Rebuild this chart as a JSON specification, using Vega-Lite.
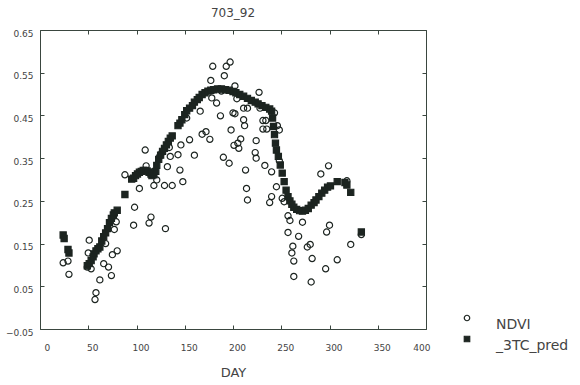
{
  "$schema": "https://vega.github.io/schema/vega-lite/v6.json",
  "autosize": {"type": "none"},
  "padding": {"left": 40, "top": 30, "right": 154, "bottom": 56},
  "width": 386,
  "height": 299,
  "background": "white",
  "title": {"text": "703_92", "fontSize": 12, "fontWeight": "normal", "color": "#444", "font": "DejaVu Sans", "offset": 9},
  "config": {
    "view": {"stroke": "#3a463f", "strokeWidth": 1},
    "axis": {"grid": false, "domain": false, "tickColor": "#3a463f", "tickSize": -4, "labelColor": "#444", "labelFont": "DejaVu Sans", "labelFontSize": 9, "titleFont": "DejaVu Sans", "titleColor": "#444", "titleFontWeight": "normal"}
  },
  "datasets": {
    "pts": [
      {"day": 24, "value": 0.105, "series": "NDVI"},
      {"day": 29, "value": 0.109, "series": "NDVI"},
      {"day": 30, "value": 0.078, "series": "NDVI"},
      {"day": 49, "value": 0.095, "series": "NDVI"},
      {"day": 50, "value": 0.128, "series": "NDVI"},
      {"day": 51, "value": 0.158, "series": "NDVI"},
      {"day": 53, "value": 0.091, "series": "NDVI"},
      {"day": 57, "value": 0.019, "series": "NDVI"},
      {"day": 58, "value": 0.035, "series": "NDVI"},
      {"day": 62, "value": 0.065, "series": "NDVI"},
      {"day": 66, "value": 0.103, "series": "NDVI"},
      {"day": 68, "value": 0.15, "series": "NDVI"},
      {"day": 71, "value": 0.095, "series": "NDVI"},
      {"day": 74, "value": 0.075, "series": "NDVI"},
      {"day": 75, "value": 0.124, "series": "NDVI"},
      {"day": 77, "value": 0.183, "series": "NDVI"},
      {"day": 79, "value": 0.201, "series": "NDVI"},
      {"day": 80, "value": 0.133, "series": "NDVI"},
      {"day": 88, "value": 0.311, "series": "NDVI"},
      {"day": 97, "value": 0.193, "series": "NDVI"},
      {"day": 98, "value": 0.235, "series": "NDVI"},
      {"day": 103, "value": 0.279, "series": "NDVI"},
      {"day": 109, "value": 0.369, "series": "NDVI"},
      {"day": 110, "value": 0.332, "series": "NDVI"},
      {"day": 113, "value": 0.198, "series": "NDVI"},
      {"day": 115, "value": 0.212, "series": "NDVI"},
      {"day": 117, "value": 0.318, "series": "NDVI"},
      {"day": 118, "value": 0.286, "series": "NDVI"},
      {"day": 121, "value": 0.299, "series": "NDVI"},
      {"day": 124, "value": 0.354, "series": "NDVI"},
      {"day": 126, "value": 0.362, "series": "NDVI"},
      {"day": 129, "value": 0.286, "series": "NDVI"},
      {"day": 130, "value": 0.185, "series": "NDVI"},
      {"day": 132, "value": 0.33, "series": "NDVI"},
      {"day": 134, "value": 0.375, "series": "NDVI"},
      {"day": 135, "value": 0.354, "series": "NDVI"},
      {"day": 137, "value": 0.286, "series": "NDVI"},
      {"day": 143, "value": 0.358, "series": "NDVI"},
      {"day": 145, "value": 0.322, "series": "NDVI"},
      {"day": 146, "value": 0.381, "series": "NDVI"},
      {"day": 148, "value": 0.295, "series": "NDVI"},
      {"day": 152, "value": 0.444, "series": "NDVI"},
      {"day": 155, "value": 0.393, "series": "NDVI"},
      {"day": 160, "value": 0.357, "series": "NDVI"},
      {"day": 166, "value": 0.46, "series": "NDVI"},
      {"day": 168, "value": 0.406, "series": "NDVI"},
      {"day": 172, "value": 0.412, "series": "NDVI"},
      {"day": 176, "value": 0.394, "series": "NDVI"},
      {"day": 177, "value": 0.532, "series": "NDVI"},
      {"day": 178, "value": 0.491, "series": "NDVI"},
      {"day": 179, "value": 0.565, "series": "NDVI"},
      {"day": 183, "value": 0.479, "series": "NDVI"},
      {"day": 187, "value": 0.449, "series": "NDVI"},
      {"day": 188, "value": 0.507, "series": "NDVI"},
      {"day": 190, "value": 0.352, "series": "NDVI"},
      {"day": 191, "value": 0.543, "series": "NDVI"},
      {"day": 193, "value": 0.565, "series": "NDVI"},
      {"day": 196, "value": 0.338, "series": "NDVI"},
      {"day": 197, "value": 0.575, "series": "NDVI"},
      {"day": 198, "value": 0.416, "series": "NDVI"},
      {"day": 200, "value": 0.456, "series": "NDVI"},
      {"day": 201, "value": 0.38, "series": "NDVI"},
      {"day": 202, "value": 0.454, "series": "NDVI"},
      {"day": 202, "value": 0.519, "series": "NDVI"},
      {"day": 204, "value": 0.489, "series": "NDVI"},
      {"day": 205, "value": 0.385, "series": "NDVI"},
      {"day": 206, "value": 0.373, "series": "NDVI"},
      {"day": 208, "value": 0.395, "series": "NDVI"},
      {"day": 211, "value": 0.467, "series": "NDVI"},
      {"day": 211, "value": 0.44, "series": "NDVI"},
      {"day": 212, "value": 0.426, "series": "NDVI"},
      {"day": 213, "value": 0.322, "series": "NDVI"},
      {"day": 214, "value": 0.279, "series": "NDVI"},
      {"day": 215, "value": 0.252, "series": "NDVI"},
      {"day": 215, "value": 0.467, "series": "NDVI"},
      {"day": 223, "value": 0.363, "series": "NDVI"},
      {"day": 224, "value": 0.391, "series": "NDVI"},
      {"day": 224, "value": 0.35, "series": "NDVI"},
      {"day": 227, "value": 0.504, "series": "NDVI"},
      {"day": 228, "value": 0.467, "series": "NDVI"},
      {"day": 231, "value": 0.438, "series": "NDVI"},
      {"day": 231, "value": 0.418, "series": "NDVI"},
      {"day": 233, "value": 0.333, "series": "NDVI"},
      {"day": 234, "value": 0.438, "series": "NDVI"},
      {"day": 235, "value": 0.418, "series": "NDVI"},
      {"day": 238, "value": 0.246, "series": "NDVI"},
      {"day": 240, "value": 0.26, "series": "NDVI"},
      {"day": 240, "value": 0.318, "series": "NDVI"},
      {"day": 243, "value": 0.456, "series": "NDVI"},
      {"day": 245, "value": 0.283, "series": "NDVI"},
      {"day": 246, "value": 0.426, "series": "NDVI"},
      {"day": 248, "value": 0.416, "series": "NDVI"},
      {"day": 248, "value": 0.344, "series": "NDVI"},
      {"day": 251, "value": 0.256, "series": "NDVI"},
      {"day": 253, "value": 0.248, "series": "NDVI"},
      {"day": 257, "value": 0.215, "series": "NDVI"},
      {"day": 257, "value": 0.176, "series": "NDVI"},
      {"day": 259, "value": 0.204, "series": "NDVI"},
      {"day": 261, "value": 0.128, "series": "NDVI"},
      {"day": 262, "value": 0.144, "series": "NDVI"},
      {"day": 263, "value": 0.109, "series": "NDVI"},
      {"day": 263, "value": 0.073, "series": "NDVI"},
      {"day": 268, "value": 0.167, "series": "NDVI"},
      {"day": 272, "value": 0.2, "series": "NDVI"},
      {"day": 277, "value": 0.142, "series": "NDVI"},
      {"day": 280, "value": 0.148, "series": "NDVI"},
      {"day": 281, "value": 0.06, "series": "NDVI"},
      {"day": 282, "value": 0.115, "series": "NDVI"},
      {"day": 291, "value": 0.313, "series": "NDVI"},
      {"day": 296, "value": 0.091, "series": "NDVI"},
      {"day": 297, "value": 0.177, "series": "NDVI"},
      {"day": 299, "value": 0.332, "series": "NDVI"},
      {"day": 300, "value": 0.193, "series": "NDVI"},
      {"day": 308, "value": 0.112, "series": "NDVI"},
      {"day": 318, "value": 0.297, "series": "NDVI"},
      {"day": 322, "value": 0.148, "series": "NDVI"},
      {"day": 333, "value": 0.171, "series": "NDVI"},
      {"day": 24, "value": 0.17, "series": "_3TC_pred"},
      {"day": 25, "value": 0.162, "series": "_3TC_pred"},
      {"day": 29, "value": 0.136, "series": "_3TC_pred"},
      {"day": 30, "value": 0.128, "series": "_3TC_pred"},
      {"day": 49, "value": 0.098, "series": "_3TC_pred"},
      {"day": 51, "value": 0.103, "series": "_3TC_pred"},
      {"day": 53, "value": 0.11, "series": "_3TC_pred"},
      {"day": 55, "value": 0.119, "series": "_3TC_pred"},
      {"day": 56, "value": 0.126, "series": "_3TC_pred"},
      {"day": 58, "value": 0.133, "series": "_3TC_pred"},
      {"day": 60, "value": 0.138, "series": "_3TC_pred"},
      {"day": 62, "value": 0.142, "series": "_3TC_pred"},
      {"day": 64, "value": 0.156, "series": "_3TC_pred"},
      {"day": 66, "value": 0.166, "series": "_3TC_pred"},
      {"day": 68, "value": 0.175, "series": "_3TC_pred"},
      {"day": 70, "value": 0.185, "series": "_3TC_pred"},
      {"day": 72, "value": 0.199, "series": "_3TC_pred"},
      {"day": 74, "value": 0.209, "series": "_3TC_pred"},
      {"day": 76, "value": 0.217, "series": "_3TC_pred"},
      {"day": 77, "value": 0.222, "series": "_3TC_pred"},
      {"day": 80, "value": 0.228, "series": "_3TC_pred"},
      {"day": 88, "value": 0.265, "series": "_3TC_pred"},
      {"day": 95, "value": 0.301, "series": "_3TC_pred"},
      {"day": 97, "value": 0.303, "series": "_3TC_pred"},
      {"day": 99, "value": 0.309, "series": "_3TC_pred"},
      {"day": 101, "value": 0.313, "series": "_3TC_pred"},
      {"day": 103, "value": 0.317, "series": "_3TC_pred"},
      {"day": 105, "value": 0.319, "series": "_3TC_pred"},
      {"day": 107, "value": 0.321, "series": "_3TC_pred"},
      {"day": 109, "value": 0.321, "series": "_3TC_pred"},
      {"day": 111, "value": 0.32, "series": "_3TC_pred"},
      {"day": 113, "value": 0.317, "series": "_3TC_pred"},
      {"day": 115, "value": 0.313, "series": "_3TC_pred"},
      {"day": 116, "value": 0.309, "series": "_3TC_pred"},
      {"day": 118, "value": 0.311, "series": "_3TC_pred"},
      {"day": 120, "value": 0.319, "series": "_3TC_pred"},
      {"day": 121, "value": 0.333, "series": "_3TC_pred"},
      {"day": 123, "value": 0.347, "series": "_3TC_pred"},
      {"day": 125, "value": 0.357, "series": "_3TC_pred"},
      {"day": 127, "value": 0.366, "series": "_3TC_pred"},
      {"day": 129, "value": 0.373, "series": "_3TC_pred"},
      {"day": 131, "value": 0.381, "series": "_3TC_pred"},
      {"day": 133, "value": 0.389, "series": "_3TC_pred"},
      {"day": 135, "value": 0.397, "series": "_3TC_pred"},
      {"day": 137, "value": 0.402, "series": "_3TC_pred"},
      {"day": 143, "value": 0.426, "series": "_3TC_pred"},
      {"day": 145, "value": 0.432, "series": "_3TC_pred"},
      {"day": 147, "value": 0.44, "series": "_3TC_pred"},
      {"day": 150, "value": 0.452, "series": "_3TC_pred"},
      {"day": 152, "value": 0.461, "series": "_3TC_pred"},
      {"day": 155, "value": 0.467, "series": "_3TC_pred"},
      {"day": 158, "value": 0.473, "series": "_3TC_pred"},
      {"day": 160, "value": 0.481, "series": "_3TC_pred"},
      {"day": 163, "value": 0.487, "series": "_3TC_pred"},
      {"day": 165, "value": 0.492, "series": "_3TC_pred"},
      {"day": 168, "value": 0.499, "series": "_3TC_pred"},
      {"day": 171, "value": 0.503, "series": "_3TC_pred"},
      {"day": 174, "value": 0.507, "series": "_3TC_pred"},
      {"day": 177, "value": 0.509, "series": "_3TC_pred"},
      {"day": 180, "value": 0.51, "series": "_3TC_pred"},
      {"day": 184, "value": 0.512, "series": "_3TC_pred"},
      {"day": 188, "value": 0.512, "series": "_3TC_pred"},
      {"day": 192, "value": 0.51, "series": "_3TC_pred"},
      {"day": 196, "value": 0.509, "series": "_3TC_pred"},
      {"day": 200, "value": 0.506, "series": "_3TC_pred"},
      {"day": 203, "value": 0.503, "series": "_3TC_pred"},
      {"day": 207, "value": 0.499, "series": "_3TC_pred"},
      {"day": 211, "value": 0.495, "series": "_3TC_pred"},
      {"day": 215, "value": 0.49, "series": "_3TC_pred"},
      {"day": 219, "value": 0.485, "series": "_3TC_pred"},
      {"day": 223, "value": 0.481, "series": "_3TC_pred"},
      {"day": 226, "value": 0.477, "series": "_3TC_pred"},
      {"day": 230, "value": 0.473, "series": "_3TC_pred"},
      {"day": 234, "value": 0.469, "series": "_3TC_pred"},
      {"day": 238, "value": 0.465, "series": "_3TC_pred"},
      {"day": 240, "value": 0.46, "series": "_3TC_pred"},
      {"day": 241, "value": 0.444, "series": "_3TC_pred"},
      {"day": 242, "value": 0.424, "series": "_3TC_pred"},
      {"day": 243, "value": 0.405, "series": "_3TC_pred"},
      {"day": 244, "value": 0.385, "series": "_3TC_pred"},
      {"day": 245, "value": 0.369, "series": "_3TC_pred"},
      {"day": 247, "value": 0.354, "series": "_3TC_pred"},
      {"day": 249, "value": 0.334, "series": "_3TC_pred"},
      {"day": 251, "value": 0.315, "series": "_3TC_pred"},
      {"day": 253, "value": 0.295, "series": "_3TC_pred"},
      {"day": 255, "value": 0.275, "series": "_3TC_pred"},
      {"day": 257, "value": 0.26, "series": "_3TC_pred"},
      {"day": 259, "value": 0.25, "series": "_3TC_pred"},
      {"day": 261, "value": 0.242, "series": "_3TC_pred"},
      {"day": 263, "value": 0.235, "series": "_3TC_pred"},
      {"day": 266, "value": 0.23, "series": "_3TC_pred"},
      {"day": 269, "value": 0.227, "series": "_3TC_pred"},
      {"day": 272, "value": 0.226, "series": "_3TC_pred"},
      {"day": 275, "value": 0.228, "series": "_3TC_pred"},
      {"day": 278, "value": 0.232, "series": "_3TC_pred"},
      {"day": 281, "value": 0.24, "series": "_3TC_pred"},
      {"day": 284, "value": 0.246, "series": "_3TC_pred"},
      {"day": 286, "value": 0.252, "series": "_3TC_pred"},
      {"day": 289, "value": 0.26, "series": "_3TC_pred"},
      {"day": 292, "value": 0.268, "series": "_3TC_pred"},
      {"day": 295, "value": 0.275, "series": "_3TC_pred"},
      {"day": 298, "value": 0.282, "series": "_3TC_pred"},
      {"day": 301, "value": 0.285, "series": "_3TC_pred"},
      {"day": 308, "value": 0.295, "series": "_3TC_pred"},
      {"day": 316, "value": 0.293, "series": "_3TC_pred"},
      {"day": 318, "value": 0.287, "series": "_3TC_pred"},
      {"day": 322, "value": 0.27, "series": "_3TC_pred"},
      {"day": 333, "value": 0.177, "series": "_3TC_pred"}
    ]
  },
  "data": {"name": "pts"},
  "resolve": {"scale": {"x": "independent", "y": "independent"}},
  "layer": [
    {
      "mark": {"type": "point", "opacity": 1, "strokeWidth": 1.2, "size": 38},
      "encoding": {
        "x": {"field": "day", "type": "quantitative", "scale": {"domain": [0, 400], "nice": false, "zero": false},
          "axis": {"orient": "bottom", "values": [0, 50, 100, 150, 200, 250, 300, 350, 400], "title": "DAY", "titleFontSize": 13, "titlePadding": 14, "labelPadding": 18, "labelOffset": 4}},
        "y": {"field": "value", "type": "quantitative", "scale": {"domain": [-0.05, 0.65], "nice": false, "zero": false},
          "axis": {"orient": "left", "values": [-0.05, 0.05, 0.15, 0.25, 0.35, 0.45, 0.55, 0.65], "format": ".2f", "title": null, "labelPadding": 11, "labelOffset": 3}},
        "shape": {"field": "series", "type": "nominal", "scale": {"domain": ["NDVI", "_3TC_pred"], "range": ["circle", "square"]},
          "legend": {"orient": "none", "legendX": 420, "legendY": 281, "title": null, "padding": 0, "rowPadding": 0, "labelFontSize": 14, "labelFont": "DejaVu Sans", "labelColor": "#444", "labelOffset": 22, "labelBaseline": "top", "symbolSize": 30, "symbolStrokeWidth": 1.2}},
        "fill": {"field": "series", "type": "nominal", "scale": {"domain": ["NDVI", "_3TC_pred"], "range": ["transparent", "#1c2420"]}},
        "stroke": {"field": "series", "type": "nominal", "scale": {"domain": ["NDVI", "_3TC_pred"], "range": ["#1c2420", "#1c2420"]}}
      }
    },
    {
      "mark": {"type": "point", "opacity": 0},
      "encoding": {
        "x": {"field": "day", "type": "quantitative", "scale": {"domain": [0, 400], "nice": false, "zero": false},
          "axis": {"orient": "top", "values": [0, 50, 100, 150, 200, 250, 300, 350, 400], "labels": false, "title": null}},
        "y": {"field": "value", "type": "quantitative", "scale": {"domain": [-0.05, 0.65], "nice": false, "zero": false},
          "axis": {"orient": "right", "values": [-0.05, 0.05, 0.15, 0.25, 0.35, 0.45, 0.55, 0.65], "labels": false, "title": null}}
      }
    }
  ]
}
